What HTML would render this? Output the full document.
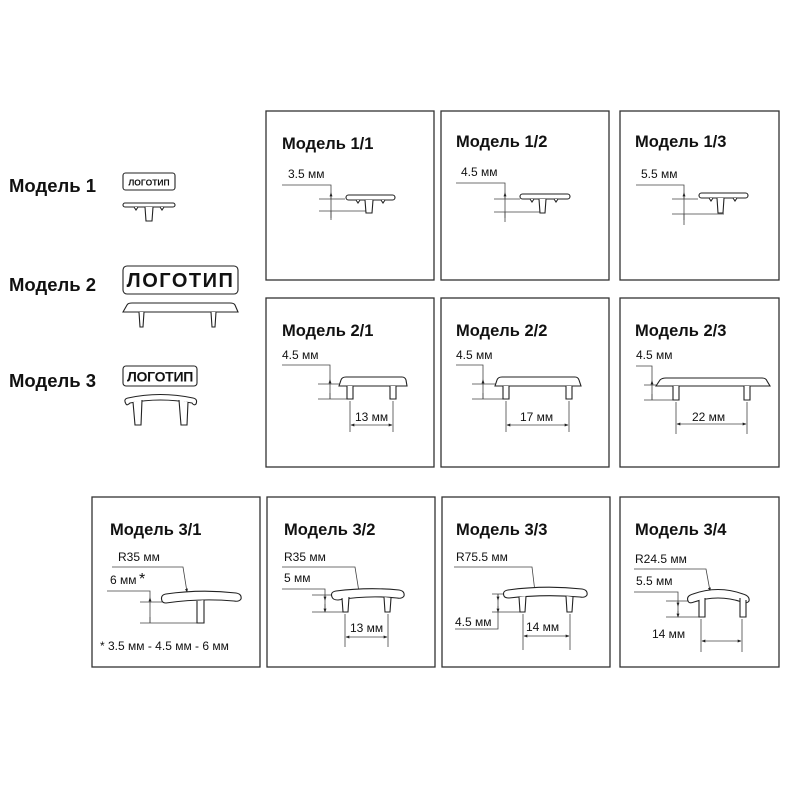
<!DOCTYPE html>
<html><head><meta charset="utf-8"><style>
html,body{margin:0;padding:0;background:#fff;width:800px;height:800px;overflow:hidden}
svg{display:block}
text{font-family:"Liberation Sans",sans-serif;fill:#111}
.t{font-weight:bold;font-size:16.5px}
.m{font-weight:bold;font-size:18.5px}
.d{font-size:12px}
.b{fill:none;stroke:#333;stroke-width:1.3}
.p{fill:#fff;stroke:#222;stroke-width:1.1}
.l{fill:none;stroke:#444;stroke-width:0.8}
</style></head><body>
<svg width="800" height="800" viewBox="0 0 800 800" xmlns="http://www.w3.org/2000/svg">
<defs>
<marker id="a" viewBox="0 0 6 6" refX="5" refY="3" markerWidth="5" markerHeight="5" orient="auto-start-reverse"><path d="M0,0.8 L6,3 L0,5.2z" fill="#222"/></marker>
</defs>
<!-- left column -->
<text class="m" x="9" y="192">Модель 1</text>
<text class="m" x="9" y="291">Модель 2</text>
<text class="m" x="9" y="387">Модель 3</text>
<rect class="p" x="123" y="173" width="52" height="17" rx="2.5"/>
<text x="149" y="185.5" text-anchor="middle" style="font-size:8.5px;font-weight:bold">ЛОГОТИП</text>
<rect class="p" x="123" y="203" width="52" height="4" rx="2"/>
<path class="p" d="M145,207 L146,221 L152,221 L153,207"/>
<path class="p" d="M134,207 l2,3 l2,-3 M160,207 l2,3 l2,-3"/>
<rect class="p" x="123" y="266" width="115" height="28" rx="4"/>
<text x="180.5" y="287" text-anchor="middle" style="font-size:20px;font-weight:bold;letter-spacing:1.5px">ЛОГОТИП</text>
<path class="p" d="M123,312 L127,305 Q128,303 132,303 L230,303 Q234,303 235,305 L238,312 Z"/>
<path class="p" d="M139,312 L140,327 L143,327 L144,312 M211,312 L212,327 L215,327 L216,312"/>
<rect class="p" x="123" y="366" width="74" height="20" rx="3"/>
<text x="160" y="381.5" text-anchor="middle" style="font-size:14px;font-weight:bold;letter-spacing:-0.3px">ЛОГОТИП</text>
<path class="p" d="M126,404 Q123,399 128,398 Q160,391 193,398 Q198,399 196,404 Q194,406 192,403 Q160,397 130,403 Q127,406 126,404 Z"/>
<path class="p" d="M133,402 L135,425 L141,425 L142,400 M179,400 L181,425 L187,425 L188,402"/>

<!-- boxes -->
<rect class="b" x="266" y="111" width="168" height="169"/>
<rect class="b" x="441" y="111" width="168" height="169"/>
<rect class="b" x="620" y="111" width="159" height="169"/>
<rect class="b" x="266" y="298" width="168" height="169"/>
<rect class="b" x="441" y="298" width="168" height="169"/>
<rect class="b" x="620" y="298" width="159" height="169"/>
<rect class="b" x="92" y="497" width="168" height="170"/>
<rect class="b" x="267" y="497" width="168" height="170"/>
<rect class="b" x="442" y="497" width="168" height="170"/>
<rect class="b" x="620" y="497" width="159" height="170"/>

<text class="t" x="282" y="149">Модель 1/1</text>
<text class="t" x="456" y="147">Модель 1/2</text>
<text class="t" x="635" y="147">Модель 1/3</text>
<text class="t" x="282" y="336">Модель 2/1</text>
<text class="t" x="456" y="336">Модель 2/2</text>
<text class="t" x="635" y="336">Модель 2/3</text>
<text class="t" x="110" y="535">Модель 3/1</text>
<text class="t" x="284" y="535">Модель 3/2</text>
<text class="t" x="456" y="535">Модель 3/3</text>
<text class="t" x="635" y="535">Модель 3/4</text>

<!-- 1/1 -->
<text class="d" x="288" y="178">3.5 мм</text>
<path class="l" d="M282,185 H331 V220 M319,199 H345 M319,211 H372"/>
<path class="l" d="M331,193 V199 M331,211 V218" marker-start="url(#a)"/>
<rect class="p" x="346" y="195" width="49" height="5" rx="2.5"/>
<path class="p" d="M365,200 L366,213 L372,213 L373,200 M356,200 l2,3 l2,-3 M381,200 l2,3 l2,-3"/>
<!-- 1/2 -->
<text class="d" x="461" y="176">4.5 мм</text>
<path class="l" d="M456,183 H505 V222 M494,199 H520 M494,212 H545"/>
<path class="l" d="M505,193 V199 M505,212 V218" marker-start="url(#a)"/>
<rect class="p" x="520" y="194" width="50" height="5" rx="2.5"/>
<path class="p" d="M539,199 L540,213 L545,213 L546,199 M530,199 l2,3 l2,-3 M554,199 l2,3 l2,-3"/>
<!-- 1/3 -->
<text class="d" x="641" y="178">5.5 мм</text>
<path class="l" d="M636,185 H684 V225 M672,199 H698 M672,214 H724"/>
<path class="l" d="M684,193 V199 M684,214 V220" marker-start="url(#a)"/>
<rect class="p" x="699" y="193" width="49" height="5" rx="2.5"/>
<path class="p" d="M717,198 L718,213 L723,213 L724,198 M709,198 l2,3 l2,-3 M733,198 l2,3 l2,-3"/>

<!-- 2/1 -->
<text class="d" x="282" y="359">4.5 мм</text>
<path class="l" d="M282,365 H330 V399 M318,384 H340 M318,399 H348"/>
<path class="l" d="M330,380 V384 M330,399 V393" marker-start="url(#a)"/>
<path class="p" d="M339,386 L341,380 Q342,377 346,377 L402,377 Q405,377 406,380 L407,386 Z"/>
<path class="p" d="M347,386 L347,399 L353,399 L353,386 M390,386 L390,399 L396,399 L396,386"/>
<path class="l" d="M350,401 V432 M393,401 V432"/>
<path class="l" d="M351,425 H392" marker-start="url(#a)" marker-end="url(#a)"/>
<text class="d" x="355" y="421">13 мм</text>
<!-- 2/2 -->
<text class="d" x="456" y="359">4.5 мм</text>
<path class="l" d="M456,365 H483 V399 M472,384 H497 M472,399 H505"/>
<path class="l" d="M483,380 V384 M483,399 V393" marker-start="url(#a)"/>
<path class="p" d="M495,386 L497,380 Q498,377 502,377 L575,377 Q578,377 579,380 L581,386 Z"/>
<path class="p" d="M503,386 L503,399 L509,399 L509,386 M566,386 L566,399 L572,399 L572,386"/>
<path class="l" d="M506,401 V432 M569,401 V432"/>
<path class="l" d="M507,425 H568" marker-start="url(#a)" marker-end="url(#a)"/>
<text class="d" x="520" y="421">17 мм</text>
<!-- 2/3 -->
<text class="d" x="636" y="359">4.5 мм</text>
<path class="l" d="M636,366 H652 V400 M644,385 H672 M644,400 H678"/>
<path class="l" d="M652,381 V385 M652,400 V394" marker-start="url(#a)"/>
<path class="p" d="M656,386 L660,380 Q662,378 666,378 L762,378 Q766,378 767,381 L770,386 Z"/>
<path class="p" d="M673,386 L673,400 L679,400 L679,386 M744,386 L744,400 L750,400 L750,386"/>
<path class="l" d="M676,402 V434 M747,402 V434"/>
<path class="l" d="M677,424 H746" marker-start="url(#a)" marker-end="url(#a)"/>
<text class="d" x="692" y="421">22 мм</text>

<!-- 3/1 -->
<text class="d" x="118" y="561">R35 мм</text>
<path class="l" d="M112,567 H183 L187,592" marker-end="url(#a)"/>
<text class="d" x="110" y="584">6 мм</text>
<text x="139" y="584" style="font-size:16px">*</text>
<path class="l" d="M107,591 H150 V623 M140,602 H162 M140,623 H203"/>
<path class="l" d="M150,598 V602 M150,623 V617" marker-start="url(#a)"/>
<path class="p" d="M162,601 Q160,595 166,594 Q201,589 236,593 Q242,594 241,599 Q239,602 234,601 Q201,598 166,603 Q163,603 162,601 Z"/>
<path class="p" d="M197,601 L197,623 L204,623 L204,600"/>
<text class="d" x="100" y="650">* 3.5 мм - 4.5 мм - 6 мм</text>
<!-- 3/2 -->
<text class="d" x="284" y="561">R35 мм</text>
<path class="l" d="M282,567 H355 L359,592" marker-end="url(#a)"/>
<text class="d" x="284" y="582">5 мм</text>
<path class="l" d="M282,589 H325 V612 M312,595 H335 M312,612 H345"/>
<path class="l" d="M325,600 V595 M325,604 V612" marker-start="url(#a)" marker-end="url(#a)"/>
<path class="p" d="M332,597 Q330,592 336,591 Q368,587 399,590 Q405,591 404,596 Q402,599 397,598 Q368,595 338,600 Q333,600 332,597 Z"/>
<path class="p" d="M342,598 L343,612 L348,612 L349,597 M384,597 L385,612 L390,612 L391,598"/>
<path class="l" d="M345,614 V647 M388,614 V647"/>
<path class="l" d="M346,637 H387" marker-start="url(#a)" marker-end="url(#a)"/>
<text class="d" x="350" y="632">13 мм</text>
<!-- 3/3 -->
<text class="d" x="456" y="561">R75.5 мм</text>
<path class="l" d="M454,567 H532 L535,592" marker-end="url(#a)"/>
<path class="l" d="M492,594 H515 M492,612 H521 M498,594 V629 H455"/>
<path class="l" d="M498,600 V594 M498,606 V612" marker-start="url(#a)" marker-end="url(#a)"/>
<text class="d" x="455" y="626">4.5 мм</text>
<path class="p" d="M504,596 Q502,591 508,590 Q545,585 582,589 Q588,590 587,595 Q585,598 580,597 Q545,594 509,598 Q505,598 504,596 Z"/>
<path class="p" d="M519,597 L520,612 L525,612 L526,596 M566,596 L567,612 L572,612 L573,597"/>
<path class="l" d="M523,614 V650 M570,614 V650"/>
<path class="l" d="M524,636 H569" marker-start="url(#a)" marker-end="url(#a)"/>
<text class="d" x="526" y="631">14 мм</text>
<!-- 3/4 -->
<text class="d" x="635" y="563">R24.5 мм</text>
<path class="l" d="M634,569 H706 L710,591" marker-end="url(#a)"/>
<text class="d" x="636" y="585">5.5 мм</text>
<path class="l" d="M634,592 H678 V617 M666,601 H690 M666,617 H699"/>
<path class="l" d="M678,606 V601 M678,611 V617" marker-start="url(#a)" marker-end="url(#a)"/>
<path class="p" d="M688,601 Q686,596 693,594 Q718,585 743,594 Q750,596 749,601 Q747,604 742,602 Q718,594 694,602 Q689,604 688,601 Z"/>
<path class="p" d="M699,600 L699,617 L705,617 L705,598 M740,598 L740,617 L746,617 L746,600"/>
<path class="l" d="M701,619 V652 M742,619 V652"/>
<path class="l" d="M702,641 H741" marker-start="url(#a)" marker-end="url(#a)"/>
<text class="d" x="652" y="638">14 мм</text>
</svg>
</body></html>
